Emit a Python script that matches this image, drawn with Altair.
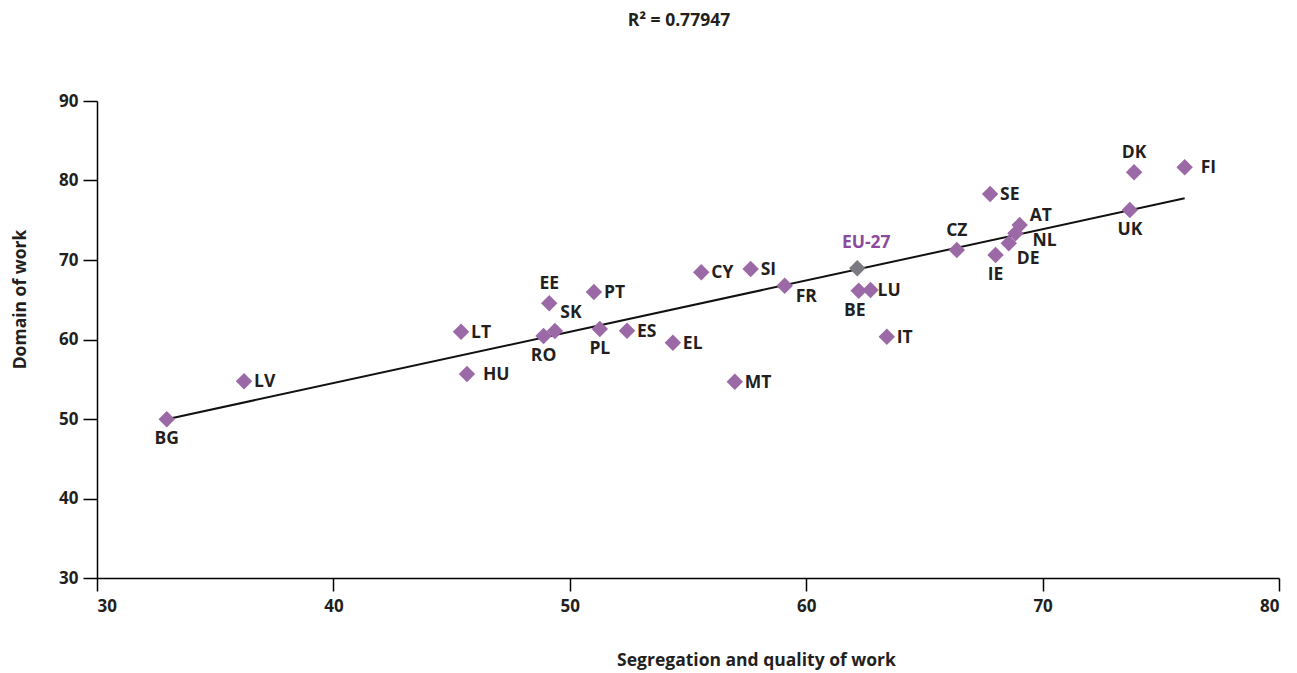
import altair as alt
import pandas as pd

# ---- data ----
countries = ["BG", "LV", "LT", "HU", "EE", "RO", "SK", "PT", "PL", "ES", "EL", "CY",
             "MT", "SI", "FR", "BE", "LU", "IT", "CZ", "SE", "IE", "DE", "NL", "AT",
             "UK", "DK", "FI"]
segregation = [32.95, 36.22, 45.40, 45.65, 49.13, 48.89, 49.37, 51.02, 51.27, 52.42, 54.36, 55.56,
               56.98, 57.65, 59.09, 62.22, 62.72, 63.41, 66.37, 67.78, 68.01, 68.57, 68.85, 69.03,
               73.69, 73.87, 76.01]
domain_work = [49.96, 54.74, 60.98, 55.66, 64.55, 60.44, 61.07, 65.97, 61.32, 61.11, 59.60, 68.45,
               54.69, 68.87, 66.77, 66.14, 66.23, 60.35, 71.26, 78.30, 70.63, 72.10, 73.36, 74.40,
               76.29, 81.03, 81.66]
label_place = ["below", "right", "right", "farright", "above", "below", "aboveright", "right",
               "below", "right", "right", "right", "right", "right", "rightlow", "belowleft",
               "rightnear", "right", "above", "right", "below", "rightlow2", "rightlow3",
               "righthigh", "below", "above", "farright"]

eu_label = ["EU-27"]
eu_segregation = [62.16]
eu_domain = [68.96]

r2_text = ["R² = 0.77947"]
x_ticks = [30, 40, 50, 60, 70, 80]
y_ticks = [30, 40, 50, 60, 70, 80, 90]

df = pd.DataFrame({"country": countries, "seg": segregation, "dom": domain_work,
                   "place": label_place})
eu = pd.DataFrame({"country": eu_label, "seg": eu_segregation, "dom": eu_domain})

FONT = "Open Sans"
PURPLE = "#9b6aa6"
GREY = "#7b7a80"
TEXT = "#231f20"
W, H = 1182, 477
LBL = 17.5

xs = alt.Scale(domain=[30, 80], nice=False, zero=False)
ys = alt.Scale(domain=[30, 90], nice=False, zero=False)

X = alt.X("seg:Q", scale=xs,
          axis=alt.Axis(values=x_ticks, title="Segregation and quality of work",
                        titleX=659, titleY=82, titleAlign="center", titleBaseline="middle",
                        tickSize=13, labelPadding=7, grid=False))
Y = alt.Y("dom:Q", scale=ys,
          axis=alt.Axis(values=y_ticks, title="Domain of work",
                        titleX=-77, titleY=198, titleAlign="center", titleBaseline="middle",
                        tickSize=14, labelPadding=5, grid=False))

base = alt.Chart(df)

line = base.transform_regression("seg", "dom").mark_line(
    color="#111111", strokeWidth=2).encode(x=X, y=Y)

pts = base.mark_point(shape="diamond", filled=True, size=270, color=PURPLE,
                      opacity=1).encode(x=X, y=Y)

eu_pt = alt.Chart(eu).mark_point(shape="diamond", filled=True, size=270, color=GREY,
                                 opacity=1).encode(x=X, y=Y)
eu_txt = alt.Chart(eu).mark_text(font=FONT, fontWeight="bold", fontSize=LBL, color="#8b4a9c",
                                 align="center", baseline="middle", dx=9, dy=-25).encode(
    x=X, y=Y, text="country:N")

PLACES = {
    "right": dict(align="left", dx=10, dy=1),
    "farright": dict(align="left", dx=16, dy=1),
    "rightnear": dict(align="left", dx=7, dy=1),
    "below": dict(align="center", dx=0, dy=20),
    "belowleft": dict(align="center", dx=-4, dy=20),
    "above": dict(align="center", dx=0, dy=-19),
    "aboveright": dict(align="center", dx=16, dy=-18),
    "rightlow": dict(align="left", dx=11, dy=11),
    "rightlow2": dict(align="left", dx=8, dy=16),
    "rightlow3": dict(align="left", dx=17, dy=8),
    "righthigh": dict(align="left", dx=10, dy=-9),
}

labels = []
for key, opt in PLACES.items():
    labels.append(
        base.transform_filter(alt.datum.place == key).mark_text(
            font=FONT, fontWeight="bold", fontSize=LBL, color=TEXT,
            baseline="middle", **opt).encode(x=X, y=Y, text="country:N"))

title = alt.Chart(pd.DataFrame({"t": r2_text})).mark_text(
    font=FONT, fontWeight="bold", fontSize=17.5, color=TEXT, align="center",
    baseline="middle").encode(x=alt.value(W / 2 - 9), y=alt.value(-80), text="t:N")

chart = alt.layer(line, pts, eu_pt, eu_txt, *labels, title).properties(
    width=W, height=H,
    autosize=alt.AutoSizeParams(type="none"),
    padding={"left": 89, "top": 93, "right": 10, "bottom": 94},
).configure_view(stroke=None).configure_axis(
    domainColor="#000000", tickColor="#000000", domainWidth=1.5, tickWidth=1.5,
    labelFont=FONT, labelFontWeight="bold", labelFontSize=17, labelColor=TEXT,
    titleFont=FONT, titleFontWeight="bold", titleFontSize=17.5, titleColor=TEXT,
)

chart.save("out.html", embed_options={"renderer": "svg", "actions": False})
